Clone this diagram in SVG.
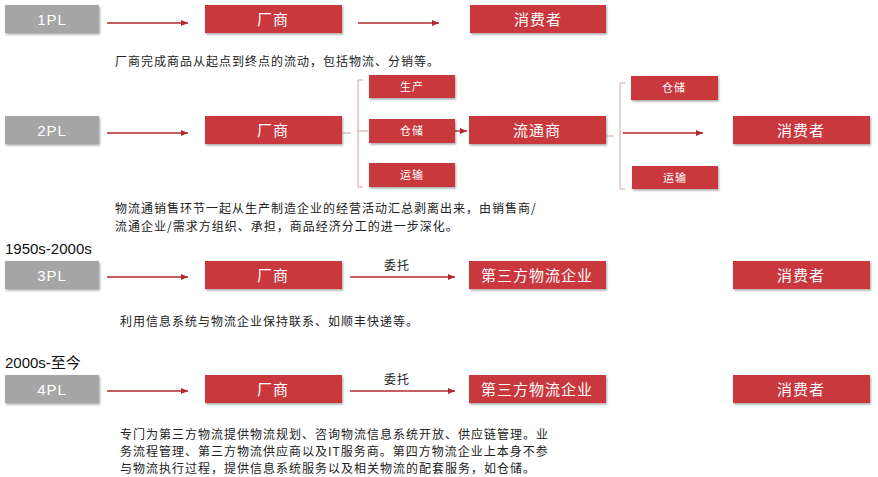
<svg xmlns="http://www.w3.org/2000/svg" width="878" height="477" viewBox="0 0 878 477">
<defs>
<filter id="sh" x="-10%" y="-20%" width="120%" height="150%"><feDropShadow dx="1" dy="1.5" stdDeviation="1" flood-color="#000" flood-opacity="0.35"/></filter>
<marker id="ar" markerWidth="8" markerHeight="8" refX="7" refY="4" orient="auto" markerUnits="userSpaceOnUse"><path d="M0,1 L7,4 L0,7 Z" fill="#b3272c"/></marker>
</defs>
<style>
.g{fill:#a6a6a6;filter:url(#sh)}
.r{fill:#c9393d;filter:url(#sh)}
.t{font-family:"Liberation Sans","Noto Sans CJK SC",sans-serif;fill:#fff;text-anchor:middle;dominant-baseline:central}
.b{font-size:15px;letter-spacing:1px}.s{font-size:11px;letter-spacing:1px}
.d{font-family:"Noto Sans CJK SC",sans-serif;font-size:12px;letter-spacing:1px;fill:#222}
.y{font-family:"Liberation Sans","Noto Sans CJK SC",sans-serif;font-size:15px;fill:#111}
.c{stroke:#b3272c;stroke-width:1.3;fill:none;marker-end:url(#ar)}
.k{stroke:#d9a0a2;stroke-width:1;fill:none}
</style>
<g id="connectors">
<path class="c" d="M107,23 H188"/><path class="c" d="M358,23 H439"/>
<path class="c" d="M107,133 H188"/>
<path class="k" d="M343,133 H351 M363,80 H358 V187 H363 M358,131 H368"/>
<path class="c" d="M455,131 H467"/>
<path class="k" d="M607,136 H614 M625,83 H620 V189 H625"/>
<path class="c" d="M623,133 H703"/>
<path class="c" d="M107,277 H188"/><path class="c" d="M350,277 H455"/>
<path class="c" d="M107,391 H188"/><path class="c" d="M350,391 H455"/>
</g>
<g id="n1pl"><rect class="g" x="5" y="5" width="94" height="28"/><text class="t b" x="52" y="19">1PL</text></g>
<g id="n1m"><rect class="r" x="205" y="5" width="137" height="28"/><text class="t b" x="273" y="19">厂商</text></g>
<g id="n1c"><rect class="r" x="470" y="5" width="136" height="28"/><text class="t b" x="538" y="19">消费者</text></g>
<text class="d" x="115" y="66">厂商完成商品从起点到终点的流动，包括物流、分销等。</text>
<g id="n2pl"><rect class="g" x="5" y="116" width="94" height="28"/><text class="t b" x="52" y="130">2PL</text></g>
<g id="n2m"><rect class="r" x="205" y="116" width="137" height="28"/><text class="t b" x="273" y="130">厂商</text></g>
<g id="n2a"><rect class="r" x="369" y="75" width="86" height="23"/><text class="t s" x="412" y="86.5">生产</text></g>
<g id="n2b"><rect class="r" x="369" y="119" width="86" height="24"/><text class="t s" x="412" y="131">仓储</text></g>
<g id="n2c"><rect class="r" x="369" y="163" width="86" height="24"/><text class="t s" x="412" y="175">运输</text></g>
<g id="n2d"><rect class="r" x="469" y="116" width="137" height="28"/><text class="t b" x="537" y="130">流通商</text></g>
<g id="n2e"><rect class="r" x="631" y="76" width="87" height="24"/><text class="t s" x="674" y="88">仓储</text></g>
<g id="n2f"><rect class="r" x="632" y="166" width="86" height="23"/><text class="t s" x="675" y="177.5">运输</text></g>
<g id="n2g"><rect class="r" x="733" y="116" width="137" height="28"/><text class="t b" x="801" y="130">消费者</text></g>
<text class="d" x="115" y="213">物流通销售环节一起从生产制造企业的经营活动汇总剥离出来，由销售商/</text>
<text class="d" x="115" y="231">流通企业/需求方组织、承担，商品经济分工的进一步深化。</text>
<text class="y" x="5" y="254">1950s-2000s</text>
<g id="n3pl"><rect class="g" x="5" y="261" width="94" height="28"/><text class="t b" x="52" y="275">3PL</text></g>
<g id="n3m"><rect class="r" x="205" y="261" width="137" height="28"/><text class="t b" x="273" y="275">厂商</text></g>
<text class="d" x="384" y="270">委托</text>
<g id="n3t"><rect class="r" x="469" y="261" width="137" height="28"/><text class="t b" x="537" y="275">第三方物流企业</text></g>
<g id="n3c"><rect class="r" x="733" y="261" width="137" height="28"/><text class="t b" x="801" y="275">消费者</text></g>
<text class="d" x="120" y="326">利用信息系统与物流企业保持联系、如顺丰快递等。</text>
<text class="y" x="5" y="368">2000s-至今</text>
<g id="n4pl"><rect class="g" x="5" y="375" width="94" height="28"/><text class="t b" x="52" y="389">4PL</text></g>
<g id="n4m"><rect class="r" x="205" y="375" width="137" height="28"/><text class="t b" x="273" y="389">厂商</text></g>
<text class="d" x="384" y="384">委托</text>
<g id="n4t"><rect class="r" x="469" y="375" width="137" height="28"/><text class="t b" x="537" y="389">第三方物流企业</text></g>
<g id="n4c"><rect class="r" x="733" y="375" width="137" height="28"/><text class="t b" x="801" y="389">消费者</text></g>
<text class="d" x="120" y="439">专门为第三方物流提供物流规划、咨询物流信息系统开放、供应链管理。业</text>
<text class="d" x="120" y="456">务流程管理、第三方物流供应商以及IT服务商。第四方物流企业上本身不参</text>
<text class="d" x="120" y="473">与物流执行过程，提供信息系统服务以及相关物流的配套服务，如仓储。</text>
</svg>
